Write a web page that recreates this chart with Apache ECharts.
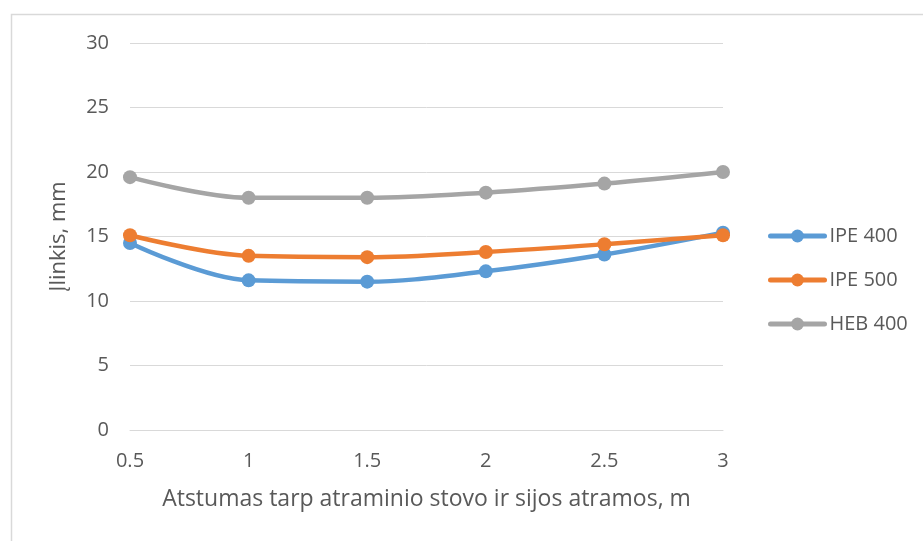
<!DOCTYPE html>
<html>
<head>
<meta charset="utf-8">
<script src="https://cdn.jsdelivr.net/npm/echarts@6/dist/echarts.min.js"></script>
<style>
  html, body { margin: 0; padding: 0; background: #fff; }
  #chart { width: 923px; height: 541px; }
</style>
</head>
<body>
<div id="chart"></div>
<script>
// Distance between the support post and the beam support, m
const distances = ['0.5', '1', '1.5', '2', '2.5', '3'];

// Deflection, mm
const ipe400 = [14.5, 11.6, 11.5, 12.3, 13.6, 15.3];
const ipe500 = [15.1, 13.5, 13.4, 13.8, 14.4, 15.1];
const heb400 = [19.6, 18.0, 18.0, 18.4, 19.1, 20.0];

const seriesNames = ['IPE 400', 'IPE 500', 'HEB 400'];
const seriesColors = ['#5b9bd5', '#ed7d31', '#a5a5a5'];

const FONT = 'Open Sans, Lato, sans-serif';
const TXT = '#595959';

const chart = echarts.init(document.getElementById('chart'));

function line(name, data, color) {
  return {
    name: name,
    type: 'line',
    data: data,
    smooth: 0.35,
    symbol: 'circle',
    symbolSize: 14,
    lineStyle: { width: 4.5, color: color, cap: 'round' },
    itemStyle: { color: color },
    emphasis: { disabled: true },
    z: 3
  };
}

chart.setOption({
  animation: false,
  backgroundColor: '#fff',
  graphic: [{
    type: 'rect',
    shape: { x: 11.5, y: 14.5, width: 930, height: 540 },
    style: { fill: 'none', stroke: '#d9d9d9', lineWidth: 1.5 },
    silent: true
  }],
  grid: { left: 130, right: 200, top: 43, bottom: 111, containLabel: false },
  legend: {
    orient: 'vertical',
    left: 768,
    top: 224,
    padding: 0,
    itemGap: 20,
    itemWidth: 54,
    itemHeight: 16,
    data: seriesNames,
    lineStyle: { width: 5, cap: 'round' },
    textStyle: { fontFamily: FONT, fontSize: 20, lineHeight: 24, color: TXT }
  },
  xAxis: {
    type: 'category',
    data: distances,
    boundaryGap: false,
    name: 'Atstumas tarp atraminio stovo ir sijos atramos, m',
    nameLocation: 'middle',
    nameGap: 58,
    nameTextStyle: { fontFamily: FONT, fontSize: 23, color: TXT },
    axisLine: { show: true, lineStyle: { color: '#d9d9d9', width: 1 } },
    axisTick: { show: false },
    axisLabel: { fontFamily: FONT, fontSize: 20, color: TXT, margin: 21 },
    splitLine: { show: false }
  },
  yAxis: {
    type: 'value',
    min: 0,
    max: 30,
    interval: 5,
    name: 'Įlinkis, mm',
    nameLocation: 'middle',
    nameGap: 60,
    nameTextStyle: { fontFamily: FONT, fontSize: 22, color: TXT },
    axisLine: { show: false },
    axisTick: { show: false },
    axisLabel: { fontFamily: FONT, fontSize: 20, color: TXT, margin: 21 },
    splitLine: { lineStyle: { color: '#d9d9d9', width: 1 } }
  },
  series: [
    line(seriesNames[0], ipe400, seriesColors[0]),
    line(seriesNames[1], ipe500, seriesColors[1]),
    line(seriesNames[2], heb400, seriesColors[2])
  ]
});
</script>
</body>
</html>
